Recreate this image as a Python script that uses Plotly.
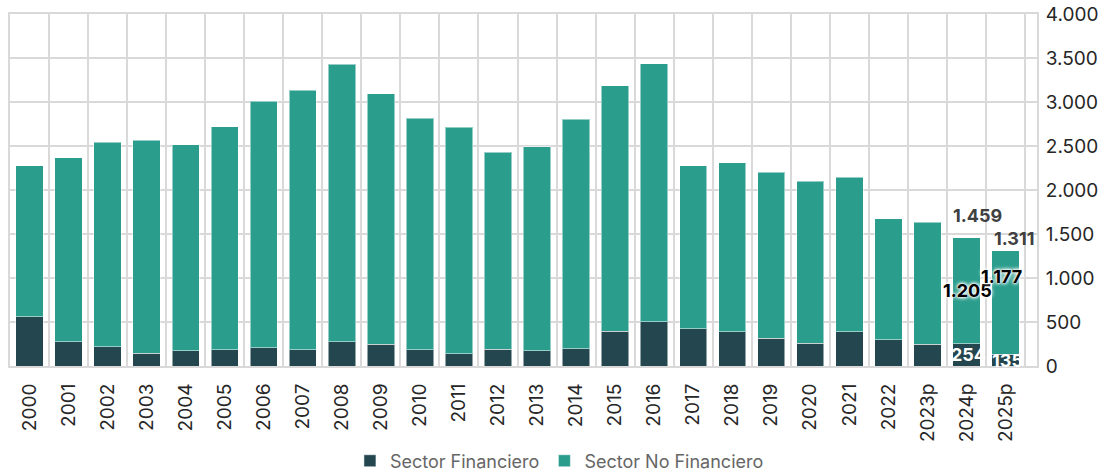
import plotly.graph_objects as go

# years (p = proyección)
years = ["2000", "2001", "2002", "2003", "2004", "2005", "2006", "2007", "2008",
         "2009", "2010", "2011", "2012", "2013", "2014", "2015", "2016", "2017",
         "2018", "2019", "2020", "2021", "2022", "2023p", "2024p", "2025p"]

# sector financiero
financiero = [560, 276, 219, 144, 174, 185, 208, 185, 276, 246, 185, 140, 193,
              174, 197, 394, 503, 424, 390, 318, 257, 390, 299, 250, 254, 135]

# sector no financiero
no_financiero = [1714, 2088, 2324, 2421, 2342, 2535, 2800, 2948, 3152, 2845,
                 2630, 2573, 2236, 2320, 2607, 2792, 2933, 1850, 1918, 1884,
                 1843, 1755, 1373, 1381, 1205, 1177]

totales = [1459, 1311]          # totals shown above the last two bars
labeled = ["2024p", "2025p"]

C_FIN = "#24464f"
C_NOFIN = "#2a9d8c"
FONT = "Inter"


def fmt(v):
    return f"{v:,}".replace(",", ".")


fig = go.Figure()
fig.add_trace(go.Bar(
    x=years, y=financiero, name="Sector Financiero",
    marker=dict(color=C_FIN, line=dict(color="rgba(255,255,255,0.5)", width=1))))
fig.add_trace(go.Bar(
    x=years, y=no_financiero, name="Sector No Financiero",
    marker=dict(color=C_NOFIN, line=dict(color="rgba(255,255,255,0.5)", width=1))))

annotations = []
for i, yr in enumerate(labeled):
    k = years.index(yr)
    f, nf = financiero[k], no_financiero[k]
    annotations.append(dict(
        x=yr, y=f / 2, text=f"<b>{fmt(f)}</b>", showarrow=False,
        xshift=2, font=dict(family=FONT, size=18, color="white")))
    annotations.append(dict(
        x=yr, y=f + nf / 2, text=f"<b>{fmt(nf)}</b>", showarrow=False,
        xshift=[1, -4][i], yshift=[0, 26][i],
        font=dict(family=FONT, size=18, color="black",
                  shadow="0px 0px 2px white, 0px 0px 3px white, 0px 0px 4px white, 0px 0px 5px white")))
    annotations.append(dict(
        x=yr, y=totales[i], text=f"<b>{fmt(totales[i])}</b>", showarrow=False,
        xshift=[11, 9][i], yshift=[22, 12][i],
        font=dict(family=FONT, size=18, color="#404040")))

fig.update_layout(
    barmode="stack",
    bargap=0.3,
    width=1108, height=474,
    margin=dict(l=10, r=71, t=14, b=108, autoexpand=False),
    plot_bgcolor="white",
    paper_bgcolor="white",
    font=dict(family=FONT, size=19, color="#262626"),
    xaxis=dict(
        type="category",
        tickangle=-90,
        tickson="boundaries",
        showgrid=True, gridcolor="#d9d9d9", gridwidth=2,
        showline=True, linecolor="#d9d9d9", linewidth=2, mirror=True,
        ticks="", ticklabelstandoff=8, automargin=False,
        tickfont=dict(family=FONT, size=19, color="#262626")),
    yaxis=dict(
        side="right",
        range=[0, 4000], dtick=500,
        tickformat=",d",
        showgrid=True, gridcolor="#d9d9d9", gridwidth=2,
        showline=True, linecolor="#d9d9d9", linewidth=2, mirror=True,
        zeroline=False, ticks="", ticklabelstandoff=3, automargin=False,
        ticklabeloverflow="allow",
        tickfont=dict(family=FONT, size=19, color="#262626")),
    separators=",.",
    legend=dict(
        orientation="h", x=0.535, xanchor="center", y=-0.27, yanchor="middle",
        font=dict(family=FONT, size=18, color="#666666"),
        traceorder="normal"),
    annotations=annotations,
)

# drop the default 8px body margin so the figure sits at the page corner
fig.write_html("out.html", config={"displayModeBar": False},
               post_script="document.body.style.margin='0';")
